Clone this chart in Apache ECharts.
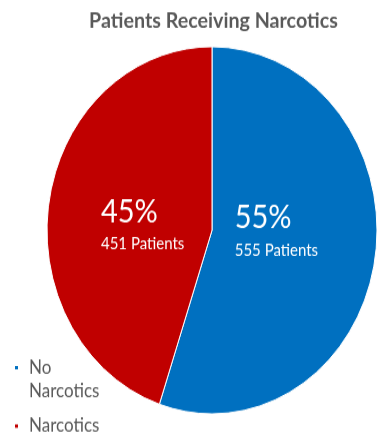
<!DOCTYPE html>
<html><head><meta charset="utf-8">
<script src="https://cdn.jsdelivr.net/npm/echarts@6/dist/echarts.min.js"></script>
<style>
html,body{margin:0;padding:0;background:#fff;overflow:hidden;width:378px;height:435px}
#c{width:378px;height:391px;transform:scaleY(1.1125);transform-origin:0 0}
</style>
</head><body><div id="c"></div>
<script>
const titleText = 'Patients Receiving Narcotics';
const categories = ['No Narcotics', 'Narcotics'];
const patients = [555, 451];
const colors = ['#0070C0', '#C00000'];

const chart = echarts.init(document.getElementById('c'));
const FONT = 'Lato';
// legend icons: square at top of a tall box (two-line item), square centred (one-line item)
const iconTop = 'path://M0,0H10V10H0Z M0,52H0.01V52.01H0Z';
const iconMid = 'path://M0,0H0.01V0.01H0Z M0,21H10V31H0Z M0,52H0.01V52.01H0Z';
const labelShift = [[-20, -15], [15, 7]];
chart.setOption({
  animation: false,
  backgroundColor: '#ffffff',
  title: {
    text: titleText,
    left: 84,
    top: 4,
    textStyle: { fontFamily: FONT, fontSize: 19.7, fontWeight: 'bold', color: '#595959' }
  },
  legend: {
    orient: 'vertical',
    left: 13,
    top: 320,
    height: 90,
    padding: 0,
    itemWidth: 5,
    itemHeight: 26,
    itemGap: 7,
    formatter: function (name) { return name.replace(' ', '\n'); },
    textStyle: { fontFamily: FONT, fontSize: 17, color: '#595959', lineHeight: 21, padding: [0, 0, 0, 5] },
    data: [
      { name: categories[0], icon: iconTop },
      { name: categories[1], icon: iconMid }
    ]
  },
  series: [{
    type: 'pie',
    center: [212, 207],
    radius: [0, 165],
    startAngle: 90,
    clockwise: true,
    itemStyle: { borderColor: '#ffffff', borderWidth: 1 },
    label: {
      show: true,
      position: 'inside',
      formatter: function (p) { return '{p|' + Math.round(p.percent) + '%}\n{n|' + p.value + ' Patients}'; },
      rich: {
        p: { fontFamily: FONT, fontSize: 29, color: '#ffffff', lineHeight: 38, align: 'left' },
        n: { fontFamily: FONT, fontSize: 15, color: '#ffffff', lineHeight: 20, align: 'left' }
      }
    },
    labelLayout: function (params) {
      const s = labelShift[params.dataIndex];
      return { dx: s[0], dy: s[1] };
    },
    labelLine: { show: false },
    data: categories.map(function (c, i) {
      return { name: c, value: patients[i], itemStyle: { color: colors[i] } };
    })
  }]
});
</script>
</body></html>
